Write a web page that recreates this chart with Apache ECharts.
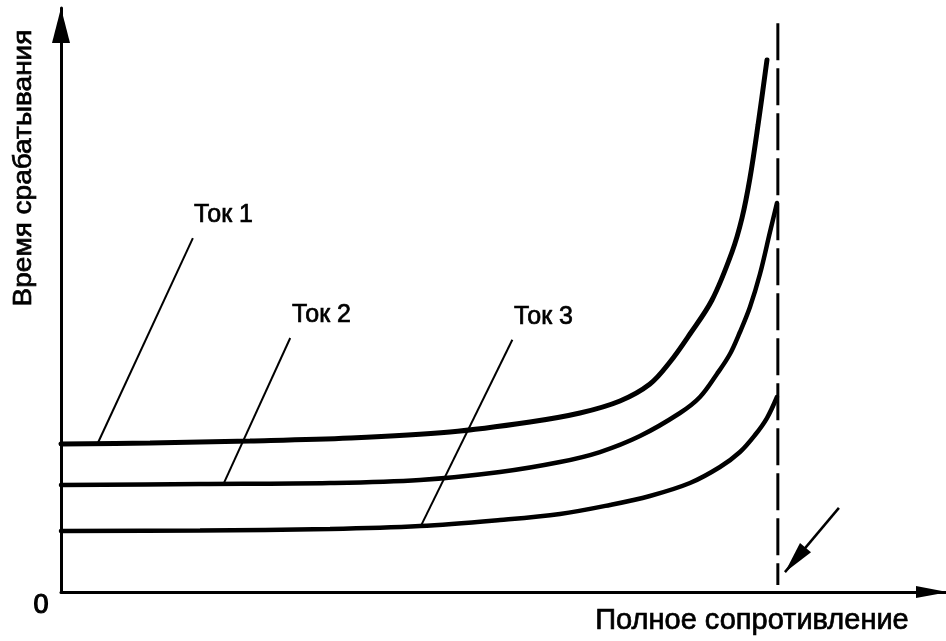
<!DOCTYPE html>
<html>
<head>
<meta charset="utf-8">
<script src="https://cdn.jsdelivr.net/npm/echarts@6/dist/echarts.min.js"></script>
<style>
  html, body { margin: 0; padding: 0; background: #fff; }
  #main { width: 946px; height: 641px; }
</style>
</head>
<body>
<div id="main"></div>
<script>
// x: полное сопротивление (0..100), y: время срабатывания (0..100)
var tok1X = [0, 10.06, 21.36, 32.66, 43.95, 52.99, 58.64, 63.16, 66.55, 68.81, 71.07, 73.56, 75.82, 76.95, 77.85, 78.76, 79.77];
var tok1Y = [25.34, 25.51, 25.86, 26.37, 27.40, 29.11, 30.65, 32.71, 35.62, 39.38, 44.18, 50.00, 58.22, 64.04, 70.89, 79.97, 91.10];

var tok2X = [0, 15.71, 30.40, 40.56, 49.60, 56.38, 60.90, 65.42, 69.94, 72.20, 74.12, 75.59, 76.72, 77.85, 78.98, 80.11, 80.90];
var tok2Y = [18.32, 18.49, 18.66, 19.18, 20.55, 22.26, 23.97, 26.71, 30.65, 33.39, 37.33, 40.75, 44.52, 48.80, 54.45, 61.64, 66.61];

var tok3X = [0, 15.71, 30.40, 40.56, 49.60, 56.38, 62.03, 66.55, 71.07, 74.46, 76.72, 78.42, 79.77, 80.90];
var tok3Y = [10.45, 10.53, 10.79, 11.30, 12.33, 13.36, 14.90, 16.44, 18.66, 21.40, 23.97, 26.88, 29.79, 33.39];

var seriesNames = ['Ток 1', 'Ток 2', 'Ток 3'];

// выноски от подписей к кривым
var leader1 = [[14.9, 60.6], [4.1, 25.3]];
var leader2 = [[25.9, 43.5], [18.3, 18.3]];
var leader3 = [[51.0, 43.2], [40.6, 11.1]];

// граница (пунктир) и стрелка к ней
var limitX = 81.0;
var limitTop = 97.4;
var limitBottom = 1.2;
var pointerFrom = [87.9, 14.4];
var pointerTo = [81.8, 3.4];

function pairs(xs, ys) {
  var out = [];
  for (var i = 0; i < xs.length; i++) out.push([xs[i], ys[i]]);
  return out;
}

var chart = echarts.init(document.getElementById('main'), null, { renderer: 'canvas' });

var curveStyle = function (w) {
  return {
    type: 'line',
    smooth: 0.35,
    showSymbol: false,
    symbol: 'none',
    silent: true,
    lineStyle: { color: '#000', width: w, cap: 'round' }
  };
};

var leaderStyle = {
  type: 'line',
  showSymbol: false,
  symbol: 'none',
  silent: true,
  lineStyle: { color: '#000', width: 2 }
};

var txt = function (text, x, y, size, extra) {
  var el = {
    type: 'text',
    x: x,
    y: y,
    silent: true,
    style: {
      text: text,
      fontFamily: "'Liberation Sans', Arial, sans-serif",
      fontSize: size,
      fill: '#000',
      stroke: '#000',
      lineWidth: 0.7,
      align: 'left',
      verticalAlign: 'middle',
      textAlign: 'left',
      textVerticalAlign: 'middle'
    }
  };
  if (extra) {
    for (var k in extra) {
      if (k === 'style') {
        for (var s in extra.style) el.style[s] = extra.style[s];
      } else el[k] = extra[k];
    }
  }
  return el;
};

var option = {
  animation: false,
  backgroundColor: '#fff',
  grid: { left: 61, right: 0, top: 8, bottom: 49, containLabel: false, outerBoundsMode: 'none' },
  xAxis: {
    type: 'value',
    min: 0,
    max: 100,
    axisLine: {
      onZero: false,
      lineStyle: { color: '#000', width: 3 },
      symbol: ['none', 'triangle'],
      symbolSize: [12, 32],
      symbolOffset: [0, -14]
    },
    axisTick: { show: false },
    axisLabel: { show: false },
    splitLine: { show: false }
  },
  yAxis: {
    type: 'value',
    min: 0,
    max: 100,
    axisLine: {
      show: true,
      onZero: false,
      lineStyle: { color: '#000', width: 3 },
      symbol: ['none', 'triangle'],
      symbolSize: [18, 35],
      symbolOffset: [0, -17.5]
    },
    axisTick: { show: false },
    axisLabel: { show: false },
    splitLine: { show: false }
  },
  graphic: [
    txt('Время срабатывания', 24, 168, 25, { rotation: Math.PI / 2, scaleX: 1.12, style: { align: 'center', textAlign: 'center' } }),
    txt('0', 41, 606, 27, { style: { align: 'center', textAlign: 'center', lineWidth: 1.2 } }),
    txt('Полное сопротивление', 752, 621, 29, { style: { align: 'center', textAlign: 'center' } }),
    txt(seriesNames[0], 194, 215, 25),
    txt(seriesNames[1], 292, 315, 25),
    txt(seriesNames[2], 514, 317, 25)
  ],
  series: [
    Object.assign(curveStyle(5), { name: seriesNames[0], data: pairs(tok1X, tok1Y) }),
    Object.assign(curveStyle(4.5), { name: seriesNames[1], data: pairs(tok2X, tok2Y) }),
    Object.assign(curveStyle(4.5), { name: seriesNames[2], data: pairs(tok3X, tok3Y) }),
    Object.assign({}, leaderStyle, { data: leader1 }),
    Object.assign({}, leaderStyle, { data: leader2 }),
    Object.assign({}, leaderStyle, { data: leader3 }),
    {
      type: 'line',
      showSymbol: false,
      symbol: 'none',
      silent: true,
      lineStyle: { color: '#000', width: 3, type: [37, 8] },
      data: [[limitX, limitTop], [limitX, limitBottom]]
    },
    {
      type: 'lines',
      coordinateSystem: 'cartesian2d',
      silent: true,
      symbol: ['none', 'path://M0,0M40,40M20,20L24.5,40L15.5,40Z'],
      symbolSize: 64,
      lineStyle: { color: '#000', width: 2.5, opacity: 1, curveness: 0 },
      data: [{ coords: [pointerFrom, pointerTo] }]
    }
  ]
};

chart.setOption(option);
</script>
</body>
</html>
